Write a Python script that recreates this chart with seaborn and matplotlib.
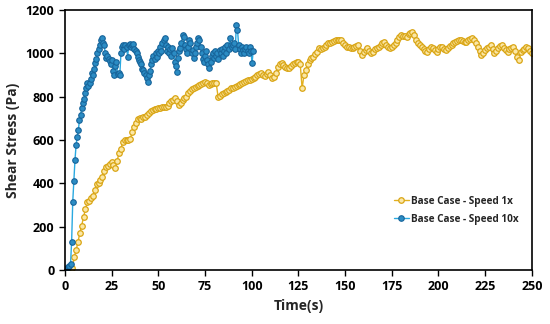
import numpy as np
import pandas as pd
import matplotlib
matplotlib.use("Agg")
import matplotlib.pyplot as plt
import seaborn as sns

sns.set_style("ticks")
plt.rcParams["font.family"] = ["Open Sans", "DejaVu Sans"]
plt.rcParams["font.weight"] = "bold"

# Base Case - Speed 1x, one sample per second (0..250 s)
slow_step = 1.0
slow_y = [
    0, 4, 10, 14, 8, 60, 90, 130, 170, 205,
    245, 280, 312, 320, 330, 340, 370, 395, 400, 415,
    430, 455, 477, 480, 490, 500, 485, 470, 505, 540,
    560, 590, 600, 598, 600, 605, 635, 661, 680, 695,
    700, 698, 705, 707, 715, 725, 735, 738, 742, 745,
    746, 748, 750, 752, 754, 758, 770, 778, 785, 793,
    780, 761, 770, 785, 795, 800, 815, 825, 835, 840,
    846, 850, 854, 860, 865, 869, 862, 855, 858, 862,
    865, 862, 800, 805, 812, 816, 822, 828, 832, 838,
    842, 846, 850, 855, 858, 862, 868, 872, 875, 877,
    882, 888, 893, 898, 903, 908, 900, 895, 905, 912,
    900, 885, 890, 910, 935, 950, 954, 945, 935, 931,
    931, 940, 950, 955, 958, 961, 950, 838, 900, 923,
    950, 969, 978, 985, 995, 1005, 1023, 1020, 1023, 1030,
    1040, 1046, 1050, 1054, 1058, 1060, 1062, 1060, 1062, 1050,
    1040, 1031, 1028, 1025, 1023, 1030, 1035, 1038, 1010, 992,
    1005, 1015, 1023, 1010, 1000, 1008, 1018, 1025, 1031, 1040,
    1050, 1054, 1040, 1030, 1023, 1030, 1040, 1046, 1060, 1075,
    1085, 1080, 1078, 1077, 1090, 1095, 1100, 1085, 1062, 1050,
    1040, 1031, 1020, 1012, 1008, 1020, 1031, 1025, 1015, 1008,
    1020, 1031, 1028, 1020, 1015, 1025, 1035, 1040, 1046, 1052,
    1058, 1062, 1060, 1056, 1054, 1054, 1060, 1066, 1070, 1060,
    1046, 1030, 1010, 992, 1000, 1015, 1023, 1030, 1038, 1020,
    1000, 1012, 1025, 1035, 1038, 1025, 1015, 1008, 1018, 1025,
    1031, 1010, 985, 969, 1008, 1015, 1022, 1031, 1025, 1010,
    1000,
]

# Base Case - Speed 10x, one sample every 0.6 s (0..~101 s)
fast_step = 0.6
fast_y = [
    0, 5, 10, 15, 20, 25, 130, 315, 411, 508,
    577, 615, 646, 692, 715, 746, 769, 790, 815, 840,
    862, 850, 862, 880, 908, 900, 930, 954, 975, 1000,
    1020, 1040, 1060, 1070, 1050, 1040, 1000, 978, 990, 975,
    965, 950, 970, 920, 900, 940, 960, 905, 910, 900,
    1000, 1030, 1040, 1020, 1040, 1030, 985, 1040, 1045, 1030,
    1040, 1045, 1020, 1010, 1000, 985, 970, 960, 950, 930,
    925, 910, 900, 885, 869, 900, 920, 950, 970, 990,
    975, 1000, 985, 1010, 1000, 1030, 1010, 1050, 1062, 1070,
    1040, 1010, 1030, 1000, 1020, 990, 1025, 1000, 960, 940,
    914, 980, 1010, 1025, 1050, 1085, 1075, 1040, 1020, 1000,
    1030, 1060, 1050, 1000, 1015, 980, 1000, 1030, 1050, 1070,
    1060, 1030, 1000, 975, 960, 990, 1010, 970, 950, 932,
    960, 990, 1000, 980, 1010, 990, 1000, 975, 1015, 1000,
    1020, 990, 1010, 1030, 1000, 1040, 1020, 1070, 1040, 1030,
    1040, 1050, 1020, 1130, 1110, 1040, 1020, 1000, 1030, 1015,
    1000, 1020, 1030, 1010, 1000, 1030, 1010, 955, 1010,
]

slow = pd.DataFrame({"t": np.arange(len(slow_y)) * slow_step, "y": slow_y})
fast = pd.DataFrame({"t": np.arange(len(fast_y)) * fast_step, "y": fast_y})

fig, ax = plt.subplots(figsize=(5.5, 3.24), dpi=100)
fig.subplots_adjust(left=0.118, right=0.967, top=0.969, bottom=0.167)

sns.lineplot(data=slow, x="t", y="y", ax=ax, color="#E2B020", linewidth=1.0,
             marker="o", markersize=4, markerfacecolor="#FBE7A6",
             markeredgecolor="#D9A514", markeredgewidth=0.9,
             label="Base Case - Speed 1x", estimator=None)
sns.lineplot(data=fast, x="t", y="y", ax=ax, color="#2AA9E0", linewidth=1.0,
             marker="o", markersize=4, markerfacecolor="#2B8CC4",
             markeredgecolor="#17649A", markeredgewidth=0.8,
             label="Base Case - Speed 10x", estimator=None)

ax.set_xlim(0, 250)
ax.set_ylim(0, 1200)
ax.set_xticks(range(0, 251, 25))
ax.set_yticks(range(0, 1201, 200))
ax.set_xlabel("Time(s)", fontsize=10, fontweight="bold")
ax.set_ylabel("Shear Stress (Pa)", fontsize=10, fontweight="bold")
ax.tick_params(axis="both", labelsize=9, direction="out", length=4, width=1, colors="black")
for lbl in ax.get_xticklabels() + ax.get_yticklabels():
    lbl.set_fontweight("bold")
for sp in ax.spines.values():
    sp.set_visible(True)
    sp.set_linewidth(1.2)
    sp.set_color("black")

ax.legend(loc="center left", bbox_to_anchor=(0.685, 0.23), frameon=False,
          handlelength=1.5, handletextpad=0.2, labelspacing=0.7,
          prop={"weight": "bold", "size": 7.2})

fig.savefig("out.png", dpi=100)
